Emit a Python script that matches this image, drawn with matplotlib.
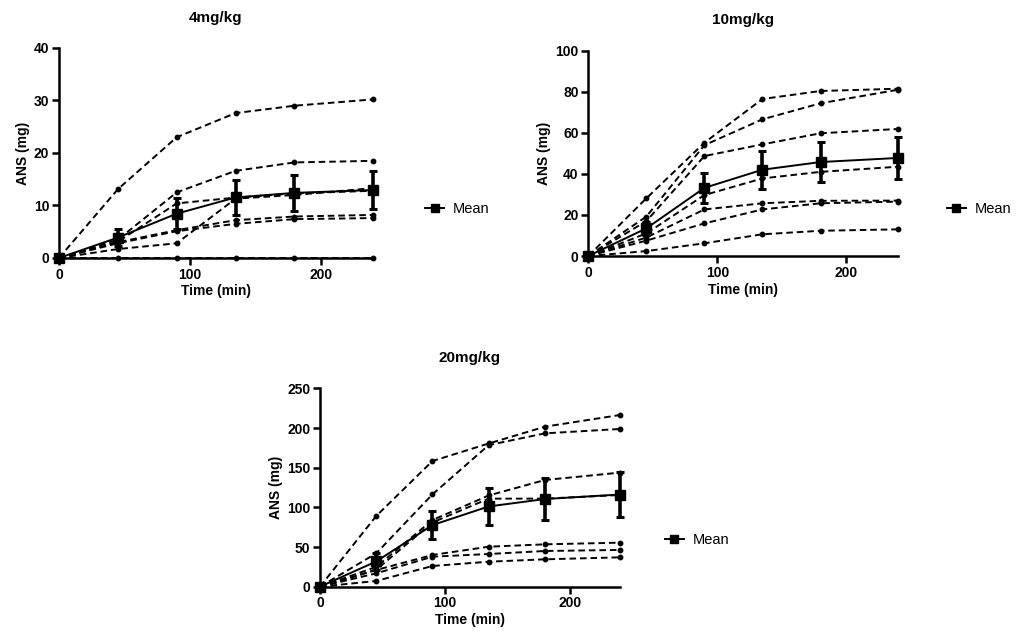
import numpy as np
import matplotlib

matplotlib.use("Agg")
import matplotlib.pyplot as plt
from matplotlib.lines import Line2D

plt.rcParams["font.family"] = ["Liberation Sans", "DejaVu Sans"]

# sampling times (min)
times = [0, 45, 90, 135, 180, 240]

# individual animals, ANS (mg) at each time point
dose4 = [
    [0, 13.1, 23.0, 27.6, 29.0, 30.2],
    [0, 3.5, 12.5, 16.6, 18.2, 18.5],
    [0, 3.1, 10.4, 11.5, 12.3, 12.8],
    [0, 1.7, 2.8, 11.3, 12.0, 13.3],
    [0, 3.0, 5.3, 7.2, 7.9, 8.2],
    [0, 2.8, 5.1, 6.5, 7.4, 7.6],
    [0, 0, 0, 0, 0, 0],
]

dose10 = [
    [0, 28.1, 55.2, 76.5, 80.4, 81.5],
    [0, 19.2, 54.0, 66.6, 74.4, 81.0],
    [0, 17.0, 48.7, 54.4, 59.8, 61.9],
    [0, 11.0, 29.7, 37.8, 41.0, 43.5],
    [0, 9.0, 22.7, 25.7, 26.9, 27.0],
    [0, 7.5, 15.9, 22.7, 25.7, 26.5],
    [0, 2.4, 6.2, 10.6, 12.3, 13.0],
]

dose20 = [
    [0, 89.1, 158.4, 180.5, 201.7, 216.4],
    [0, 42.0, 116.4, 178.5, 193.3, 198.8],
    [0, 25.0, 84.0, 115.0, 134.5, 143.8],
    [0, 21.4, 81.0, 111.0, 111.0, 115.6],
    [0, 21.0, 40.0, 50.4, 53.4, 55.5],
    [0, 16.8, 37.8, 41.2, 45.0, 46.3],
    [0, 7.2, 26.1, 31.5, 34.5, 37.0],
]

titles = ["4mg/kg", "10mg/kg", "20mg/kg"]
xticks = [0, 100, 200]
yticks4 = [0, 10, 20, 30, 40]
yticks10 = [0, 20, 40, 60, 80, 100]
yticks20 = [0, 50, 100, 150, 200, 250]


def draw_panel(ax, data, title, yticks, legend_anchor):

    data = np.array(data)
    mean = data.mean(axis=0)
    sem = data.std(axis=0, ddof=1) / np.sqrt(data.shape[0])

    # individual animals
    for row in data:
        ax.plot(times, row, color="black", linestyle=(0, (3.4, 2.0)),
                linewidth=1.4, marker="o", markersize=3.2, clip_on=False)

    # mean with SEM error bars
    ax.errorbar(times, mean, yerr=sem, color="black", linewidth=1.4,
                marker="s", markersize=6.5, elinewidth=2.6, capsize=3.2,
                capthick=2.2, clip_on=False, zorder=5)

    ax.set_xlim(0, 240)
    ax.set_ylim(yticks[0], yticks[-1])
    ax.set_xticks(xticks)
    ax.set_yticks(yticks)

    for side in ["top", "right"]:
        ax.spines[side].set_visible(False)
    for side in ["left", "bottom"]:
        ax.spines[side].set_linewidth(1.8)
    ax.tick_params(width=1.8, length=5, labelsize=10, pad=2)
    for lab in ax.get_xticklabels() + ax.get_yticklabels():
        lab.set_fontweight("bold")

    ax.set_title(title, fontsize=11, fontweight="bold", pad=19)
    ax.set_xlabel("Time (min)", fontsize=10, fontweight="bold", labelpad=2)
    ax.set_ylabel("ANS (mg)", fontsize=10, fontweight="bold", labelpad=3)

    # legend shows only the mean line with its square marker
    handle = Line2D([], [], color="black", linewidth=1.4, marker="s",
                    markersize=6)
    ax.legend([handle], ["Mean"], loc="center left",
              bbox_to_anchor=legend_anchor, frameon=False, fontsize=10.5,
              handlelength=1.3, handletextpad=0.6, borderaxespad=0,
              borderpad=0)


fig = plt.figure(figsize=(10.19, 6.32), dpi=100)

ax1 = fig.add_axes([0.0579, 0.5918, 0.3081, 0.3323])
ax2 = fig.add_axes([0.5773, 0.5949, 0.3039, 0.3248])
ax3 = fig.add_axes([0.3140, 0.0717, 0.2944, 0.3138])

draw_panel(ax1, dose4, titles[0], yticks4, (1.166, 0.233))
draw_panel(ax2, dose10, titles[1], yticks10, (1.158, 0.229))
draw_panel(ax3, dose20, titles[2], yticks20, (1.15, 0.235))

fig.savefig("out.png", dpi=100)
